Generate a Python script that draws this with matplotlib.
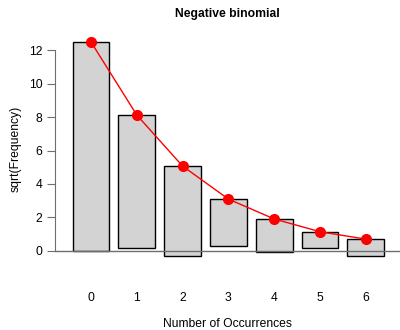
import numpy as np
from matplotlib import pyplot as plt

plt.rcParams['font.family'] = ['Liberation Sans', 'DejaVu Sans']

occurrences = [0, 1, 2, 3, 4, 5, 6]
observed = [156, 63, 29, 8, 4, 1, 1]
fitted = [155.8, 65.9, 25.7, 9.6, 3.65, 1.32, 0.50]

sq_obs = np.sqrt(observed)
sq_fit = np.sqrt(fitted)
bottoms = sq_fit - sq_obs

fig = plt.figure(figsize=(4.0, 3.3), dpi=100)
ax = fig.add_axes([0.1375, 0.204, 0.8625, 0.690])

ax.bar(occurrences, sq_obs, bottom=bottoms, width=0.8, color='#d3d3d3',
       edgecolor='black', linewidth=1.0, zorder=2)
ax.axhline(0, color='#6e6e6e', linewidth=1.0, zorder=3)
ax.plot(occurrences, sq_fit, color='red', linewidth=1.0, marker='o',
        markersize=7, zorder=4)

ax.set_xlim(-0.786, 6.747)
ax.set_ylim(-0.7, 12.9)
ax.set_yticks([0, 2, 4, 6, 8, 10, 12])
ax.set_xticks(occurrences)

fs = 8.7
for s in ['top', 'right', 'bottom']:
    ax.spines[s].set_visible(False)
ax.spines['left'].set_bounds(0, 12)
ax.spines['left'].set_color('#6e6e6e')
ax.tick_params(axis='y', length=6, color='#6e6e6e', labelsize=fs, pad=3)
ax.tick_params(axis='x', length=0, labelsize=fs, pad=21)

ax.set_xlabel('Number of Occurrences', fontsize=fs, labelpad=10)
ax.set_ylabel('sqrt(Frequency)', fontsize=fs, labelpad=5)
ax.set_title('Negative binomial', fontsize=fs, fontweight='bold', pad=13)

fig.savefig('out.png')
